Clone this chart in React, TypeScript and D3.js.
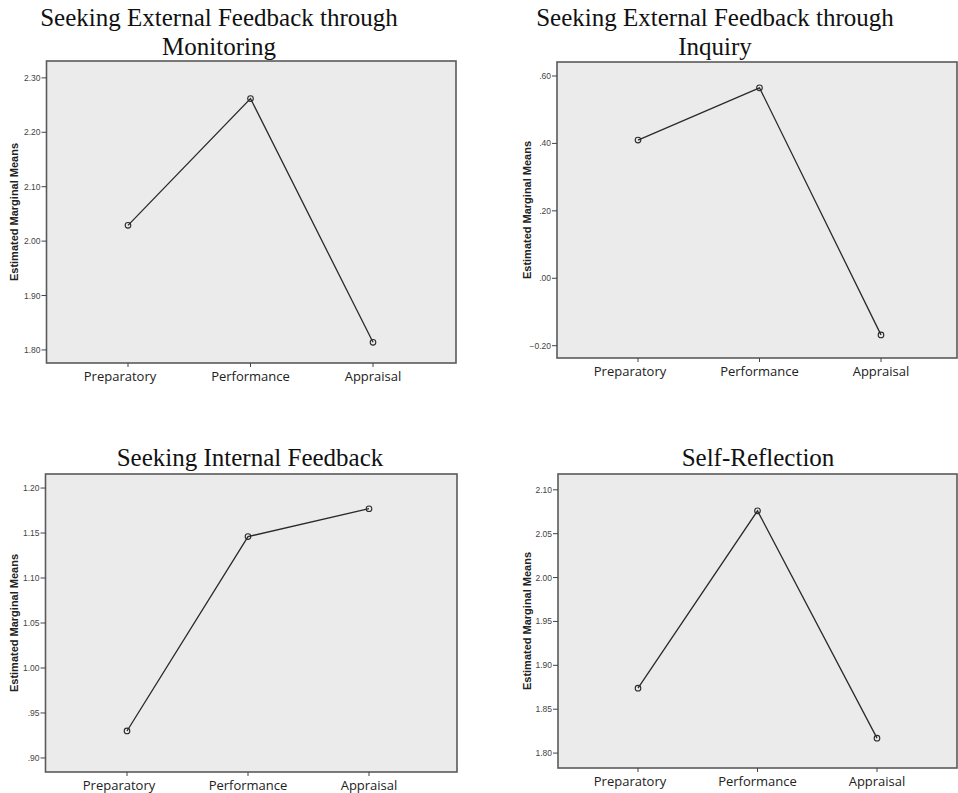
import React from "react";
import * as d3 from "d3";

const categories = ["Preparatory", "Performance", "Appraisal"];

const titles = [
  ["Seeking External Feedback through", "Monitoring"],
  ["Seeking External Feedback through", "Inquiry"],
  ["Seeking Internal Feedback"],
  ["Self-Reflection"],
];

const monitoringMeans = [2.029, 2.262, 1.814];
const inquiryMeans = [0.41, 0.565, -0.168];
const internalMeans = [0.93, 1.146, 1.177];
const reflectionMeans = [1.874, 2.076, 1.817];

const monitoringTicks = [1.8, 1.9, 2.0, 2.1, 2.2, 2.3];
const inquiryTicks = [-0.2, 0.0, 0.2, 0.4, 0.6];
const internalTicks = [0.9, 0.95, 1.0, 1.05, 1.1, 1.15, 1.2];
const reflectionTicks = [1.8, 1.85, 1.9, 1.95, 2.0, 2.05, 2.1];

const yLabel = "Estimated Marginal Means";

// layout: horizontal nudge of category labels relative to their tick
const LABEL_SHIFT = [-8, 0, 0];

type PanelCfg = {
  title: string[];
  titleX: number;
  titleY: number;
  values: number[];
  ticks: number[];
  box: [number, number, number, number]; // left, top, right, bottom
  yDomain: [number, number];
  xRange: [number, number];
  yLabelX: number;
};

const panels: PanelCfg[] = [
  {
    title: titles[0],
    titleX: 219,
    titleY: 26,
    values: monitoringMeans,
    ticks: monitoringTicks,
    box: [46.5, 61, 456, 363],
    yDomain: [1.776, 2.331],
    xRange: [128, 373],
    yLabelX: 17.5,
  },
  {
    title: titles[1],
    titleX: 715,
    titleY: 26,
    values: inquiryMeans,
    ticks: inquiryTicks,
    box: [557, 62, 957, 358],
    yDomain: [-0.2365, 0.6415],
    xRange: [638, 881],
    yLabelX: 531,
  },
  {
    title: titles[2],
    titleX: 250,
    titleY: 466,
    values: internalMeans,
    ticks: internalTicks,
    box: [45.5, 474, 457, 772],
    yDomain: [0.8844, 1.2156],
    xRange: [127, 369],
    yLabelX: 17.5,
  },
  {
    title: titles[3],
    titleX: 758,
    titleY: 466,
    values: reflectionMeans,
    ticks: reflectionTicks,
    box: [558, 474, 957, 768],
    yDomain: [1.783, 2.118],
    xRange: [638, 877],
    yLabelX: 531,
  },
];

const fmt = (v: number) => {
  const s = d3.format(".2f")(v);
  return s.replace(/^(-?)0\./, "$1.");
};

function Panel({ cfg }: { cfg: PanelCfg }) {
  const [l, t, r, b] = cfg.box;
  const y = d3.scaleLinear().domain(cfg.yDomain).range([b, t]);
  const x = d3.scalePoint<string>().domain(categories).range(cfg.xRange);
  const pts = categories.map((c, i) => [x(c) as number, y(cfg.values[i])] as [number, number]);
  const line = d3.line()(pts) || "";
  return (
    <g>
      {cfg.title.map((s, i) => (
        <text
          key={i}
          x={cfg.titleX}
          y={cfg.titleY + i * 29}
          textAnchor="middle"
          fontFamily="'Liberation Serif', 'Times New Roman', serif"
          fontSize={25}
          fill="#111"
        >
          {s}
        </text>
      ))}
      <rect x={l} y={t} width={r - l} height={b - t} fill="#ebebeb" stroke="#5a5a5a" strokeWidth={1.6} />
      {cfg.ticks.map((v) => (
        <g key={v}>
          <line x1={l - 5} x2={l} y1={y(v)} y2={y(v)} stroke="#444" strokeWidth={1} />
          <text
            x={l - 6}
            y={y(v)}
            dy="0.35em"
            textAnchor="end"
            fontFamily="'Liberation Sans', Arial, sans-serif"
            fontSize={8.5}
            fill="#444"
          >
            {fmt(v)}
          </text>
        </g>
      ))}
      {categories.map((c, i) => (
        <g key={c}>
          <line x1={x(c)} x2={x(c)} y1={b} y2={b + 4} stroke="#444" strokeWidth={1} />
          <text
            x={(x(c) as number) + LABEL_SHIFT[i]}
            y={b + 18}
            textAnchor="middle"
            fontFamily="'Open Sans', 'Noto Sans', sans-serif"
            fontSize={13}
            fill="#222"
          >
            {c}
          </text>
        </g>
      ))}
      <text
        transform={`translate(${cfg.yLabelX},${(t + b) / 2}) rotate(-90)`}
        textAnchor="middle"
        fontFamily="'Liberation Sans', Arial, sans-serif"
        fontWeight="bold"
        fontSize={11}
        fill="#222"
      >
        {yLabel}
      </text>
      <path d={line} fill="none" stroke="#2a2a2a" strokeWidth={1.3} />
      {pts.map((p, i) => (
        <circle key={i} cx={p[0]} cy={p[1]} r={2.8} fill="none" stroke="#2a2a2a" strokeWidth={1.1} />
      ))}
    </g>
  );
}

export default function App() {
  return (
    <div style={{ position: "fixed", left: 0, top: 0, background: "#fff" }}>
      <svg width={958} height={793} style={{ display: "block" }}>
        <rect width={958} height={793} fill="#fff" />
        {panels.map((p, i) => (
          <Panel key={i} cfg={p} />
        ))}
      </svg>
    </div>
  );
}
